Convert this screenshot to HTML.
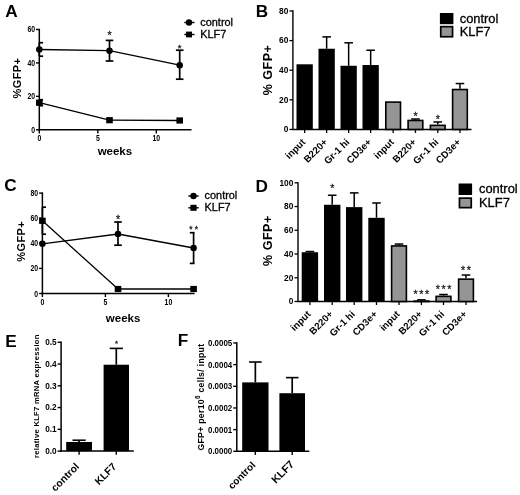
<!DOCTYPE html>
<html><head><meta charset="utf-8"><title>figure</title>
<style>
html,body{margin:0;padding:0;background:#fff;}
body{width:520px;height:495px;overflow:hidden;}
svg{display:block;font-family:"Liberation Sans",sans-serif;filter:blur(0.3px);}
</style></head><body>
<svg width="520" height="495" viewBox="0 0 520 495">
<rect x="0" y="0" width="520" height="495" fill="#fff"/>
<text transform="translate(5.30 17.10)" font-size="17.2" font-weight="bold" text-anchor="start" fill="#000">A</text>
<line x1="39.30" y1="28.80" x2="39.30" y2="130.50" stroke="#000" stroke-width="1.5"/>
<line x1="38.60" y1="129.80" x2="191.50" y2="129.80" stroke="#000" stroke-width="1.5"/>
<line x1="36.00" y1="129.80" x2="39.30" y2="129.80" stroke="#000" stroke-width="1.4"/>
<text transform="translate(35.10 132.80) scale(0.82 1)" font-size="8.4" font-weight="bold" text-anchor="end" fill="#000">0</text>
<line x1="36.00" y1="96.36" x2="39.30" y2="96.36" stroke="#000" stroke-width="1.4"/>
<text transform="translate(35.10 99.36) scale(0.82 1)" font-size="8.4" font-weight="bold" text-anchor="end" fill="#000">20</text>
<line x1="36.00" y1="62.92" x2="39.30" y2="62.92" stroke="#000" stroke-width="1.4"/>
<text transform="translate(35.10 65.92) scale(0.82 1)" font-size="8.4" font-weight="bold" text-anchor="end" fill="#000">40</text>
<line x1="36.00" y1="29.48" x2="39.30" y2="29.48" stroke="#000" stroke-width="1.4"/>
<text transform="translate(35.10 32.48) scale(0.82 1)" font-size="8.4" font-weight="bold" text-anchor="end" fill="#000">60</text>
<line x1="39.30" y1="129.80" x2="39.30" y2="133.40" stroke="#000" stroke-width="1.4"/>
<text transform="translate(39.30 140.90) scale(0.82 1)" font-size="8.4" font-weight="bold" text-anchor="middle" fill="#000">0</text>
<line x1="97.80" y1="129.80" x2="97.80" y2="133.40" stroke="#000" stroke-width="1.4"/>
<text transform="translate(97.80 140.90) scale(0.82 1)" font-size="8.4" font-weight="bold" text-anchor="middle" fill="#000">5</text>
<line x1="156.30" y1="129.80" x2="156.30" y2="133.40" stroke="#000" stroke-width="1.4"/>
<text transform="translate(156.30 140.90) scale(0.82 1)" font-size="8.4" font-weight="bold" text-anchor="middle" fill="#000">10</text>
<text transform="translate(114.90 155.00)" font-size="11.5" font-weight="bold" text-anchor="middle" fill="#000">weeks</text>
<text transform="translate(21.20 78.00) rotate(-90)" font-size="11" font-weight="bold" text-anchor="middle" letter-spacing="0.4" fill="#000">%GFP+</text>
<line x1="39.30" y1="49.50" x2="109.50" y2="50.70" stroke="#000" stroke-width="1.3"/>
<line x1="109.50" y1="50.70" x2="179.70" y2="65.20" stroke="#000" stroke-width="1.3"/>
<line x1="39.30" y1="42.70" x2="39.30" y2="56.20" stroke="#000" stroke-width="1.7"/>
<line x1="39.30" y1="42.70" x2="43.10" y2="42.70" stroke="#000" stroke-width="1.7"/>
<line x1="39.30" y1="56.20" x2="43.10" y2="56.20" stroke="#000" stroke-width="1.7"/>
<circle cx="39.30" cy="49.50" r="3.25" fill="#000"/>
<line x1="109.50" y1="40.40" x2="109.50" y2="61.00" stroke="#000" stroke-width="1.7"/>
<line x1="105.70" y1="40.40" x2="113.30" y2="40.40" stroke="#000" stroke-width="1.7"/>
<line x1="105.70" y1="61.00" x2="113.30" y2="61.00" stroke="#000" stroke-width="1.7"/>
<circle cx="109.50" cy="50.70" r="3.25" fill="#000"/>
<line x1="179.70" y1="50.20" x2="179.70" y2="79.20" stroke="#000" stroke-width="1.7"/>
<line x1="175.90" y1="50.20" x2="183.50" y2="50.20" stroke="#000" stroke-width="1.7"/>
<line x1="175.90" y1="79.20" x2="183.50" y2="79.20" stroke="#000" stroke-width="1.7"/>
<circle cx="179.70" cy="65.20" r="3.25" fill="#000"/>
<line x1="39.30" y1="102.70" x2="109.50" y2="120.20" stroke="#000" stroke-width="1.3"/>
<line x1="109.50" y1="120.20" x2="179.70" y2="120.50" stroke="#000" stroke-width="1.3"/>
<line x1="39.30" y1="99.70" x2="39.30" y2="105.70" stroke="#000" stroke-width="1.7"/>
<line x1="39.30" y1="99.70" x2="43.10" y2="99.70" stroke="#000" stroke-width="1.7"/>
<line x1="39.30" y1="105.70" x2="43.10" y2="105.70" stroke="#000" stroke-width="1.7"/>
<rect x="36.00" y="99.60" width="6.60" height="6.20" fill="#000"/>
<rect x="106.20" y="117.10" width="6.60" height="6.20" fill="#000"/>
<rect x="176.40" y="117.40" width="6.60" height="6.20" fill="#000"/>
<text transform="translate(109.50 38.70)" font-size="10.6" stroke="#222" stroke-width="0.3" text-anchor="middle" fill="#222">*</text>
<text transform="translate(179.70 50.68)" font-size="9.5" stroke="#222" stroke-width="0.3" text-anchor="middle" fill="#222">*</text>
<line x1="184.30" y1="22.50" x2="194.50" y2="22.50" stroke="#000" stroke-width="1.4"/>
<circle cx="189.00" cy="22.50" r="3.2" fill="#000"/>
<line x1="184.30" y1="34.50" x2="194.50" y2="34.50" stroke="#000" stroke-width="1.4"/>
<rect x="186.00" y="31.60" width="6.00" height="5.80" fill="#000"/>
<text transform="translate(200.30 26.30)" font-size="10.9" stroke="#000" stroke-width="0.3" text-anchor="start" fill="#000">control</text>
<text transform="translate(200.30 38.40)" font-size="10.9" stroke="#000" stroke-width="0.3" text-anchor="start" fill="#000">KLF7</text>
<text transform="translate(4.20 190.60)" font-size="17.2" font-weight="bold" text-anchor="start" fill="#000">C</text>
<line x1="42.40" y1="192.40" x2="42.40" y2="294.20" stroke="#000" stroke-width="1.5"/>
<line x1="41.70" y1="293.50" x2="194.60" y2="293.50" stroke="#000" stroke-width="1.5"/>
<line x1="39.10" y1="293.50" x2="42.40" y2="293.50" stroke="#000" stroke-width="1.4"/>
<text transform="translate(38.20 296.50) scale(0.82 1)" font-size="8.4" font-weight="bold" text-anchor="end" fill="#000">0</text>
<line x1="39.10" y1="268.40" x2="42.40" y2="268.40" stroke="#000" stroke-width="1.4"/>
<text transform="translate(38.20 271.40) scale(0.82 1)" font-size="8.4" font-weight="bold" text-anchor="end" fill="#000">20</text>
<line x1="39.10" y1="243.30" x2="42.40" y2="243.30" stroke="#000" stroke-width="1.4"/>
<text transform="translate(38.20 246.30) scale(0.82 1)" font-size="8.4" font-weight="bold" text-anchor="end" fill="#000">40</text>
<line x1="39.10" y1="218.20" x2="42.40" y2="218.20" stroke="#000" stroke-width="1.4"/>
<text transform="translate(38.20 221.20) scale(0.82 1)" font-size="8.4" font-weight="bold" text-anchor="end" fill="#000">60</text>
<line x1="39.10" y1="193.10" x2="42.40" y2="193.10" stroke="#000" stroke-width="1.4"/>
<text transform="translate(38.20 196.10) scale(0.82 1)" font-size="8.4" font-weight="bold" text-anchor="end" fill="#000">80</text>
<line x1="42.40" y1="293.50" x2="42.40" y2="297.10" stroke="#000" stroke-width="1.4"/>
<text transform="translate(42.40 304.60) scale(0.82 1)" font-size="8.4" font-weight="bold" text-anchor="middle" fill="#000">0</text>
<line x1="105.40" y1="293.50" x2="105.40" y2="297.10" stroke="#000" stroke-width="1.4"/>
<text transform="translate(105.40 304.60) scale(0.82 1)" font-size="8.4" font-weight="bold" text-anchor="middle" fill="#000">5</text>
<line x1="168.40" y1="293.50" x2="168.40" y2="297.10" stroke="#000" stroke-width="1.4"/>
<text transform="translate(168.40 304.60) scale(0.82 1)" font-size="8.4" font-weight="bold" text-anchor="middle" fill="#000">10</text>
<text transform="translate(123.10 322.10)" font-size="11.5" font-weight="bold" text-anchor="middle" fill="#000">weeks</text>
<text transform="translate(25.20 241.30) rotate(-90)" font-size="11" font-weight="bold" text-anchor="middle" letter-spacing="0.4" fill="#000">%GFP+</text>
<line x1="42.40" y1="243.80" x2="118.00" y2="234.00" stroke="#000" stroke-width="1.3"/>
<line x1="118.00" y1="234.00" x2="193.60" y2="248.00" stroke="#000" stroke-width="1.3"/>
<circle cx="42.40" cy="243.80" r="3.25" fill="#000"/>
<line x1="118.00" y1="222.00" x2="118.00" y2="245.20" stroke="#000" stroke-width="1.7"/>
<line x1="114.20" y1="222.00" x2="121.80" y2="222.00" stroke="#000" stroke-width="1.7"/>
<line x1="114.20" y1="245.20" x2="121.80" y2="245.20" stroke="#000" stroke-width="1.7"/>
<circle cx="118.00" cy="234.00" r="3.25" fill="#000"/>
<line x1="193.60" y1="232.70" x2="193.60" y2="263.40" stroke="#000" stroke-width="1.7"/>
<line x1="189.80" y1="232.70" x2="194.50" y2="232.70" stroke="#000" stroke-width="1.7"/>
<line x1="189.80" y1="263.40" x2="194.50" y2="263.40" stroke="#000" stroke-width="1.7"/>
<circle cx="193.60" cy="248.00" r="3.25" fill="#000"/>
<line x1="42.40" y1="220.80" x2="118.00" y2="289.00" stroke="#000" stroke-width="1.3"/>
<line x1="118.00" y1="289.00" x2="193.60" y2="289.00" stroke="#000" stroke-width="1.3"/>
<line x1="42.40" y1="207.20" x2="42.40" y2="234.20" stroke="#000" stroke-width="1.7"/>
<line x1="42.40" y1="207.20" x2="46.00" y2="207.20" stroke="#000" stroke-width="1.7"/>
<line x1="42.40" y1="234.20" x2="46.00" y2="234.20" stroke="#000" stroke-width="1.7"/>
<rect x="39.10" y="217.70" width="6.60" height="6.20" fill="#000"/>
<rect x="114.70" y="285.90" width="6.60" height="6.20" fill="#000"/>
<rect x="190.30" y="285.90" width="6.60" height="6.20" fill="#000"/>
<text transform="translate(118.00 223.00)" font-size="10.6" stroke="#222" stroke-width="0.3" text-anchor="middle" fill="#222">*</text>
<text transform="translate(194.80 232.41)" font-size="8.5" stroke="#222" stroke-width="0.3" text-anchor="middle" letter-spacing="2.2" fill="#222">**</text>
<line x1="188.30" y1="196.00" x2="198.70" y2="196.00" stroke="#000" stroke-width="1.4"/>
<circle cx="193.50" cy="196.00" r="3.2" fill="#000"/>
<line x1="188.30" y1="207.80" x2="198.70" y2="207.80" stroke="#000" stroke-width="1.4"/>
<rect x="190.40" y="204.80" width="6.20" height="6.00" fill="#000"/>
<text transform="translate(204.60 199.30)" font-size="10.9" stroke="#000" stroke-width="0.3" text-anchor="start" fill="#000">control</text>
<text transform="translate(204.60 211.40)" font-size="10.9" stroke="#000" stroke-width="0.3" text-anchor="start" fill="#000">KLF7</text>
<text transform="translate(255.80 17.00)" font-size="17.2" font-weight="bold" text-anchor="start" fill="#000">B</text>
<line x1="292.90" y1="10.37" x2="292.90" y2="130.05" stroke="#000" stroke-width="1.4"/>
<line x1="292.30" y1="129.45" x2="471.50" y2="129.45" stroke="#000" stroke-width="1.4"/>
<line x1="289.40" y1="129.45" x2="292.90" y2="129.45" stroke="#000" stroke-width="1.3"/>
<text transform="translate(288.30 132.35) scale(0.95 1)" font-size="8.8" font-weight="bold" text-anchor="end" fill="#000">0</text>
<line x1="289.40" y1="99.83" x2="292.90" y2="99.83" stroke="#000" stroke-width="1.3"/>
<text transform="translate(288.30 102.73) scale(0.95 1)" font-size="8.8" font-weight="bold" text-anchor="end" fill="#000">20</text>
<line x1="289.40" y1="70.21" x2="292.90" y2="70.21" stroke="#000" stroke-width="1.3"/>
<text transform="translate(288.30 73.11) scale(0.95 1)" font-size="8.8" font-weight="bold" text-anchor="end" fill="#000">40</text>
<line x1="289.40" y1="40.59" x2="292.90" y2="40.59" stroke="#000" stroke-width="1.3"/>
<text transform="translate(288.30 43.49) scale(0.95 1)" font-size="8.8" font-weight="bold" text-anchor="end" fill="#000">60</text>
<line x1="289.40" y1="10.97" x2="292.90" y2="10.97" stroke="#000" stroke-width="1.3"/>
<text transform="translate(288.30 13.87) scale(0.95 1)" font-size="8.8" font-weight="bold" text-anchor="end" fill="#000">80</text>
<rect x="296.50" y="64.29" width="16.30" height="65.16" fill="#000"/>
<line x1="304.65" y1="129.45" x2="304.65" y2="132.95" stroke="#000" stroke-width="1.3"/>
<text transform="translate(306.05 142.75) rotate(-45)" font-size="9.7" font-weight="bold" text-anchor="end" fill="#000">input</text>
<line x1="326.65" y1="36.89" x2="326.65" y2="48.74" stroke="#000" stroke-width="1.5"/>
<line x1="322.35" y1="36.89" x2="330.95" y2="36.89" stroke="#000" stroke-width="1.5"/>
<rect x="318.50" y="48.74" width="16.30" height="80.71" fill="#000"/>
<line x1="326.65" y1="129.45" x2="326.65" y2="132.95" stroke="#000" stroke-width="1.3"/>
<text transform="translate(328.05 142.75) rotate(-45)" font-size="9.7" font-weight="bold" text-anchor="end" fill="#000">B220+</text>
<line x1="348.65" y1="42.81" x2="348.65" y2="65.77" stroke="#000" stroke-width="1.5"/>
<line x1="344.35" y1="42.81" x2="352.95" y2="42.81" stroke="#000" stroke-width="1.5"/>
<rect x="340.50" y="65.77" width="16.30" height="63.68" fill="#000"/>
<line x1="348.65" y1="129.45" x2="348.65" y2="132.95" stroke="#000" stroke-width="1.3"/>
<text transform="translate(350.05 142.75) rotate(-45)" font-size="9.7" font-weight="bold" text-anchor="end" fill="#000">Gr-1 hi</text>
<line x1="370.65" y1="50.22" x2="370.65" y2="65.03" stroke="#000" stroke-width="1.5"/>
<line x1="366.35" y1="50.22" x2="374.95" y2="50.22" stroke="#000" stroke-width="1.5"/>
<rect x="362.50" y="65.03" width="16.30" height="64.42" fill="#000"/>
<line x1="370.65" y1="129.45" x2="370.65" y2="132.95" stroke="#000" stroke-width="1.3"/>
<text transform="translate(372.05 142.75) rotate(-45)" font-size="9.7" font-weight="bold" text-anchor="end" fill="#000">CD3e+</text>
<rect x="385.80" y="102.11" width="14.70" height="27.34" fill="#959595" stroke="#000" stroke-width="1.6"/>
<line x1="393.15" y1="129.45" x2="393.15" y2="132.95" stroke="#000" stroke-width="1.3"/>
<text transform="translate(394.55 142.75) rotate(-45)" font-size="9.7" font-weight="bold" text-anchor="end" fill="#000">input</text>
<line x1="415.45" y1="119.01" x2="415.45" y2="119.68" stroke="#000" stroke-width="1.5"/>
<line x1="411.15" y1="119.01" x2="419.75" y2="119.01" stroke="#000" stroke-width="1.5"/>
<rect x="408.10" y="120.48" width="14.70" height="8.97" fill="#959595" stroke="#000" stroke-width="1.6"/>
<line x1="415.45" y1="129.45" x2="415.45" y2="132.95" stroke="#000" stroke-width="1.3"/>
<text transform="translate(416.85 142.75) rotate(-45)" font-size="9.7" font-weight="bold" text-anchor="end" fill="#000">B220+</text>
<line x1="437.75" y1="121.97" x2="437.75" y2="124.56" stroke="#000" stroke-width="1.5"/>
<line x1="433.45" y1="121.97" x2="442.05" y2="121.97" stroke="#000" stroke-width="1.5"/>
<rect x="430.40" y="125.36" width="14.70" height="4.09" fill="#959595" stroke="#000" stroke-width="1.6"/>
<line x1="437.75" y1="129.45" x2="437.75" y2="132.95" stroke="#000" stroke-width="1.3"/>
<text transform="translate(439.15 142.75) rotate(-45)" font-size="9.7" font-weight="bold" text-anchor="end" fill="#000">Gr-1 hi</text>
<line x1="459.95" y1="83.54" x2="459.95" y2="88.72" stroke="#000" stroke-width="1.5"/>
<line x1="455.65" y1="83.54" x2="464.25" y2="83.54" stroke="#000" stroke-width="1.5"/>
<rect x="452.60" y="89.52" width="14.70" height="39.93" fill="#959595" stroke="#000" stroke-width="1.6"/>
<line x1="459.95" y1="129.45" x2="459.95" y2="132.95" stroke="#000" stroke-width="1.3"/>
<text transform="translate(461.35 142.75) rotate(-45)" font-size="9.7" font-weight="bold" text-anchor="end" fill="#000">CD3e+</text>
<text transform="translate(415.45 120.20)" font-size="10.6" stroke="#222" stroke-width="0.3" text-anchor="middle" fill="#222">*</text>
<text transform="translate(437.75 122.60)" font-size="10.6" stroke="#222" stroke-width="0.3" text-anchor="middle" fill="#222">*</text>
<rect x="439.90" y="13.00" width="13.50" height="11.20" fill="#000"/>
<rect x="440.75" y="26.65" width="11.80" height="10.10" fill="#959595" stroke="#000" stroke-width="1.7"/>
<text transform="translate(459.70 23.00)" font-size="12.9" stroke="#000" stroke-width="0.3" text-anchor="start" fill="#000">control</text>
<text transform="translate(459.70 36.40)" font-size="12.9" stroke="#000" stroke-width="0.3" text-anchor="start" fill="#000">KLF7</text>
<text transform="translate(271.80 70.00) rotate(-90)" font-size="12.5" font-weight="bold" text-anchor="middle" letter-spacing="0.5" fill="#000">% GFP+</text>
<text transform="translate(255.40 192.30)" font-size="17.2" font-weight="bold" text-anchor="start" fill="#000">D</text>
<line x1="298.00" y1="182.20" x2="298.00" y2="302.10" stroke="#000" stroke-width="1.4"/>
<line x1="297.40" y1="301.50" x2="477.00" y2="301.50" stroke="#000" stroke-width="1.4"/>
<line x1="294.50" y1="301.50" x2="298.00" y2="301.50" stroke="#000" stroke-width="1.3"/>
<text transform="translate(293.40 304.40) scale(0.95 1)" font-size="8.8" font-weight="bold" text-anchor="end" fill="#000">0</text>
<line x1="294.50" y1="277.76" x2="298.00" y2="277.76" stroke="#000" stroke-width="1.3"/>
<text transform="translate(293.40 280.66) scale(0.95 1)" font-size="8.8" font-weight="bold" text-anchor="end" fill="#000">20</text>
<line x1="294.50" y1="254.02" x2="298.00" y2="254.02" stroke="#000" stroke-width="1.3"/>
<text transform="translate(293.40 256.92) scale(0.95 1)" font-size="8.8" font-weight="bold" text-anchor="end" fill="#000">40</text>
<line x1="294.50" y1="230.28" x2="298.00" y2="230.28" stroke="#000" stroke-width="1.3"/>
<text transform="translate(293.40 233.18) scale(0.95 1)" font-size="8.8" font-weight="bold" text-anchor="end" fill="#000">60</text>
<line x1="294.50" y1="206.54" x2="298.00" y2="206.54" stroke="#000" stroke-width="1.3"/>
<text transform="translate(293.40 209.44) scale(0.95 1)" font-size="8.8" font-weight="bold" text-anchor="end" fill="#000">80</text>
<line x1="294.50" y1="182.80" x2="298.00" y2="182.80" stroke="#000" stroke-width="1.3"/>
<text transform="translate(293.40 185.70) scale(0.95 1)" font-size="8.8" font-weight="bold" text-anchor="end" fill="#000">100</text>
<line x1="309.90" y1="251.53" x2="309.90" y2="252.24" stroke="#000" stroke-width="1.5"/>
<line x1="305.60" y1="251.53" x2="314.20" y2="251.53" stroke="#000" stroke-width="1.5"/>
<rect x="301.70" y="252.24" width="16.40" height="49.26" fill="#000"/>
<line x1="309.90" y1="301.50" x2="309.90" y2="305.00" stroke="#000" stroke-width="1.3"/>
<text transform="translate(311.30 314.80) rotate(-45)" font-size="9.7" font-weight="bold" text-anchor="end" fill="#000">input</text>
<line x1="332.20" y1="195.26" x2="332.20" y2="204.76" stroke="#000" stroke-width="1.5"/>
<line x1="327.90" y1="195.26" x2="336.50" y2="195.26" stroke="#000" stroke-width="1.5"/>
<rect x="324.00" y="204.76" width="16.40" height="96.74" fill="#000"/>
<line x1="332.20" y1="301.50" x2="332.20" y2="305.00" stroke="#000" stroke-width="1.3"/>
<text transform="translate(333.60 314.80) rotate(-45)" font-size="9.7" font-weight="bold" text-anchor="end" fill="#000">B220+</text>
<line x1="354.20" y1="192.89" x2="354.20" y2="207.13" stroke="#000" stroke-width="1.5"/>
<line x1="349.90" y1="192.89" x2="358.50" y2="192.89" stroke="#000" stroke-width="1.5"/>
<rect x="346.00" y="207.13" width="16.40" height="94.37" fill="#000"/>
<line x1="354.20" y1="301.50" x2="354.20" y2="305.00" stroke="#000" stroke-width="1.3"/>
<text transform="translate(355.60 314.80) rotate(-45)" font-size="9.7" font-weight="bold" text-anchor="end" fill="#000">Gr-1 hi</text>
<line x1="376.50" y1="202.98" x2="376.50" y2="217.82" stroke="#000" stroke-width="1.5"/>
<line x1="372.20" y1="202.98" x2="380.80" y2="202.98" stroke="#000" stroke-width="1.5"/>
<rect x="368.30" y="217.82" width="16.40" height="83.68" fill="#000"/>
<line x1="376.50" y1="301.50" x2="376.50" y2="305.00" stroke="#000" stroke-width="1.3"/>
<text transform="translate(377.90 314.80) rotate(-45)" font-size="9.7" font-weight="bold" text-anchor="end" fill="#000">CD3e+</text>
<line x1="399.00" y1="244.05" x2="399.00" y2="245.12" stroke="#000" stroke-width="1.5"/>
<line x1="394.70" y1="244.05" x2="403.30" y2="244.05" stroke="#000" stroke-width="1.5"/>
<rect x="391.60" y="245.92" width="14.80" height="55.58" fill="#959595" stroke="#000" stroke-width="1.6"/>
<line x1="399.00" y1="301.50" x2="399.00" y2="305.00" stroke="#000" stroke-width="1.3"/>
<text transform="translate(400.40 314.80) rotate(-45)" font-size="9.7" font-weight="bold" text-anchor="end" fill="#000">input</text>
<line x1="421.40" y1="299.84" x2="421.40" y2="300.31" stroke="#000" stroke-width="1.5"/>
<line x1="417.10" y1="299.84" x2="425.70" y2="299.84" stroke="#000" stroke-width="1.5"/>
<rect x="414.00" y="301.11" width="14.80" height="0.39" fill="#959595" stroke="#000" stroke-width="1.6"/>
<line x1="421.40" y1="301.50" x2="421.40" y2="305.00" stroke="#000" stroke-width="1.3"/>
<text transform="translate(422.80 314.80) rotate(-45)" font-size="9.7" font-weight="bold" text-anchor="end" fill="#000">B220+</text>
<line x1="443.50" y1="294.50" x2="443.50" y2="295.56" stroke="#000" stroke-width="1.5"/>
<line x1="439.20" y1="294.50" x2="447.80" y2="294.50" stroke="#000" stroke-width="1.5"/>
<rect x="436.10" y="296.37" width="14.80" height="5.14" fill="#959595" stroke="#000" stroke-width="1.6"/>
<line x1="443.50" y1="301.50" x2="443.50" y2="305.00" stroke="#000" stroke-width="1.3"/>
<text transform="translate(444.90 314.80) rotate(-45)" font-size="9.7" font-weight="bold" text-anchor="end" fill="#000">Gr-1 hi</text>
<line x1="466.00" y1="275.03" x2="466.00" y2="278.35" stroke="#000" stroke-width="1.5"/>
<line x1="461.70" y1="275.03" x2="470.30" y2="275.03" stroke="#000" stroke-width="1.5"/>
<rect x="458.60" y="279.15" width="14.80" height="22.35" fill="#959595" stroke="#000" stroke-width="1.6"/>
<line x1="466.00" y1="301.50" x2="466.00" y2="305.00" stroke="#000" stroke-width="1.3"/>
<text transform="translate(467.40 314.80) rotate(-45)" font-size="9.7" font-weight="bold" text-anchor="end" fill="#000">CD3e+</text>
<text transform="translate(332.20 191.60)" font-size="10.6" stroke="#222" stroke-width="0.3" text-anchor="middle" fill="#222">*</text>
<text transform="translate(422.20 298.00)" font-size="10.6" stroke="#222" stroke-width="0.3" text-anchor="middle" letter-spacing="1.6" fill="#222">***</text>
<text transform="translate(444.30 292.50)" font-size="10.6" stroke="#222" stroke-width="0.3" text-anchor="middle" letter-spacing="1.6" fill="#222">***</text>
<text transform="translate(466.80 273.50)" font-size="10.6" stroke="#222" stroke-width="0.3" text-anchor="middle" letter-spacing="1.6" fill="#222">**</text>
<rect x="458.60" y="183.50" width="13.50" height="11.50" fill="#000"/>
<rect x="459.45" y="198.15" width="11.80" height="9.50" fill="#959595" stroke="#000" stroke-width="1.7"/>
<text transform="translate(479.00 193.40)" font-size="12.9" stroke="#000" stroke-width="0.3" text-anchor="start" fill="#000">control</text>
<text transform="translate(479.00 206.70)" font-size="12.9" stroke="#000" stroke-width="0.3" text-anchor="start" fill="#000">KLF7</text>
<text transform="translate(272.20 240.60) rotate(-90)" font-size="12.5" font-weight="bold" text-anchor="middle" letter-spacing="0.5" fill="#000">% GFP+</text>
<text transform="translate(5.20 347.30)" font-size="17.2" font-weight="bold" text-anchor="start" fill="#000">E</text>
<line x1="61.10" y1="341.60" x2="61.10" y2="451.80" stroke="#000" stroke-width="1.5"/>
<line x1="60.40" y1="451.10" x2="133.80" y2="451.10" stroke="#000" stroke-width="1.5"/>
<line x1="57.60" y1="451.10" x2="61.10" y2="451.10" stroke="#000" stroke-width="1.4"/>
<text transform="translate(56.70 454.00) scale(0.98 1)" font-size="8.4" font-weight="bold" text-anchor="end" fill="#000">0.0</text>
<line x1="57.60" y1="429.34" x2="61.10" y2="429.34" stroke="#000" stroke-width="1.4"/>
<text transform="translate(56.70 432.24) scale(0.98 1)" font-size="8.4" font-weight="bold" text-anchor="end" fill="#000">0.1</text>
<line x1="57.60" y1="407.58" x2="61.10" y2="407.58" stroke="#000" stroke-width="1.4"/>
<text transform="translate(56.70 410.48) scale(0.98 1)" font-size="8.4" font-weight="bold" text-anchor="end" fill="#000">0.2</text>
<line x1="57.60" y1="385.82" x2="61.10" y2="385.82" stroke="#000" stroke-width="1.4"/>
<text transform="translate(56.70 388.72) scale(0.98 1)" font-size="8.4" font-weight="bold" text-anchor="end" fill="#000">0.3</text>
<line x1="57.60" y1="364.06" x2="61.10" y2="364.06" stroke="#000" stroke-width="1.4"/>
<text transform="translate(56.70 366.96) scale(0.98 1)" font-size="8.4" font-weight="bold" text-anchor="end" fill="#000">0.4</text>
<line x1="57.60" y1="342.30" x2="61.10" y2="342.30" stroke="#000" stroke-width="1.4"/>
<text transform="translate(56.70 345.20) scale(0.98 1)" font-size="8.4" font-weight="bold" text-anchor="end" fill="#000">0.5</text>
<line x1="79.10" y1="440.22" x2="79.10" y2="441.96" stroke="#000" stroke-width="1.7"/>
<line x1="72.50" y1="440.22" x2="85.70" y2="440.22" stroke="#000" stroke-width="1.6"/>
<rect x="66.20" y="441.96" width="25.80" height="9.14" fill="#000"/>
<line x1="79.10" y1="451.10" x2="79.10" y2="454.70" stroke="#000" stroke-width="1.4"/>
<text transform="translate(79.90 467.30) rotate(-45)" font-size="10.3" font-weight="bold" text-anchor="end" fill="#000">control</text>
<line x1="116.30" y1="348.39" x2="116.30" y2="364.71" stroke="#000" stroke-width="1.7"/>
<line x1="109.70" y1="348.39" x2="122.90" y2="348.39" stroke="#000" stroke-width="1.6"/>
<rect x="103.60" y="364.71" width="25.40" height="86.39" fill="#000"/>
<line x1="116.30" y1="451.10" x2="116.30" y2="454.70" stroke="#000" stroke-width="1.4"/>
<text transform="translate(117.10 467.30) rotate(-45)" font-size="10.3" font-weight="bold" text-anchor="end" fill="#000">KLF7</text>
<text transform="translate(116.40 345.62)" font-size="7.8" stroke="#222" stroke-width="0.3" text-anchor="middle" fill="#222">*</text>
<text transform="translate(39.00 396.20) rotate(-90) scale(1.1 1)" font-size="6.9" font-weight="bold" text-anchor="middle" letter-spacing="0.28" fill="#000">relative KLF7 mRNA expression</text>
<text transform="translate(177.80 346.40)" font-size="17.2" font-weight="bold" text-anchor="start" fill="#000">F</text>
<line x1="236.80" y1="342.25" x2="236.80" y2="452.00" stroke="#000" stroke-width="1.5"/>
<line x1="236.10" y1="451.30" x2="309.30" y2="451.30" stroke="#000" stroke-width="1.5"/>
<line x1="233.30" y1="451.30" x2="236.80" y2="451.30" stroke="#000" stroke-width="1.4"/>
<text transform="translate(232.20 454.30) scale(0.88 1)" font-size="9.0" font-weight="bold" text-anchor="end" fill="#000">0.0000</text>
<line x1="233.30" y1="429.63" x2="236.80" y2="429.63" stroke="#000" stroke-width="1.4"/>
<text transform="translate(232.20 432.63) scale(0.88 1)" font-size="9.0" font-weight="bold" text-anchor="end" fill="#000">0.0001</text>
<line x1="233.30" y1="407.96" x2="236.80" y2="407.96" stroke="#000" stroke-width="1.4"/>
<text transform="translate(232.20 410.96) scale(0.88 1)" font-size="9.0" font-weight="bold" text-anchor="end" fill="#000">0.0002</text>
<line x1="233.30" y1="386.29" x2="236.80" y2="386.29" stroke="#000" stroke-width="1.4"/>
<text transform="translate(232.20 389.29) scale(0.88 1)" font-size="9.0" font-weight="bold" text-anchor="end" fill="#000">0.0003</text>
<line x1="233.30" y1="364.62" x2="236.80" y2="364.62" stroke="#000" stroke-width="1.4"/>
<text transform="translate(232.20 367.62) scale(0.88 1)" font-size="9.0" font-weight="bold" text-anchor="end" fill="#000">0.0004</text>
<line x1="233.30" y1="342.95" x2="236.80" y2="342.95" stroke="#000" stroke-width="1.4"/>
<text transform="translate(232.20 345.95) scale(0.88 1)" font-size="9.0" font-weight="bold" text-anchor="end" fill="#000">0.0005</text>
<line x1="255.35" y1="362.02" x2="255.35" y2="382.39" stroke="#000" stroke-width="1.7"/>
<line x1="249.05" y1="362.02" x2="261.65" y2="362.02" stroke="#000" stroke-width="1.6"/>
<rect x="242.20" y="382.39" width="26.30" height="68.91" fill="#000"/>
<line x1="255.35" y1="451.30" x2="255.35" y2="454.90" stroke="#000" stroke-width="1.4"/>
<text transform="translate(256.15 465.80) rotate(-45)" font-size="10.0" font-weight="bold" text-anchor="end" fill="#000">control</text>
<line x1="292.20" y1="377.62" x2="292.20" y2="393.22" stroke="#000" stroke-width="1.7"/>
<line x1="285.90" y1="377.62" x2="298.50" y2="377.62" stroke="#000" stroke-width="1.6"/>
<rect x="279.40" y="393.22" width="25.60" height="58.08" fill="#000"/>
<line x1="292.20" y1="451.30" x2="292.20" y2="454.90" stroke="#000" stroke-width="1.4"/>
<text transform="translate(294.80 464.90) rotate(-45)" font-size="10.8" font-weight="bold" text-anchor="end" fill="#000">KLF7</text>
<text transform="translate(203.8 397.1) rotate(-90)" font-size="8.7" font-weight="bold" text-anchor="middle" letter-spacing="0.3" fill="#000">GFP+ per10<tspan font-size="6.3" dy="-3.8">6</tspan><tspan dy="3.8"> cells/ input</tspan></text>
</svg>
</body></html>
